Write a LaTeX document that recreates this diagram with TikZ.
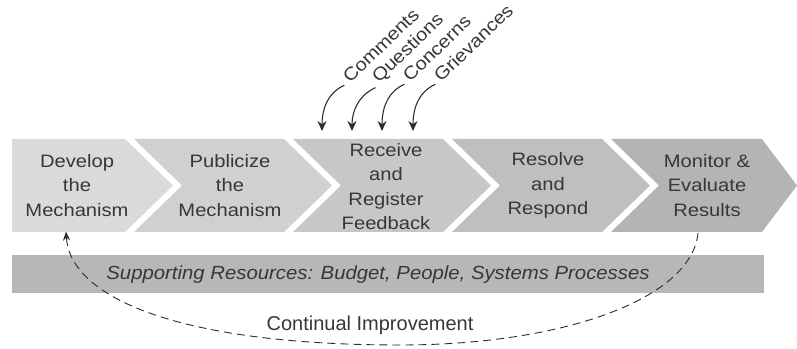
\documentclass[tikz,border=0pt]{standalone}
\usepackage{fontspec}
\setmainfont{Liberation Sans}
\newfontfamily\widefont[FakeStretch=1.12]{Liberation Sans}
\newfontfamily\barfont[FakeStretch=1.07]{Liberation Sans}
\usetikzlibrary{arrows.meta}
\definecolor{txtc}{RGB}{55,55,55}
\definecolor{linec}{RGB}{45,45,45}
\definecolor{cA}{RGB}{218,218,218}
\definecolor{cB}{RGB}{208,208,208}
\definecolor{cC}{RGB}{199,199,199}
\definecolor{cD}{RGB}{191,191,191}
\definecolor{cE}{RGB}{180,180,180}
\definecolor{barc}{RGB}{183,183,183}
\tikzset{
  steptext/.style={align=center, text=txtc, inner sep=0pt,
    font=\widefont\fontsize{18}{24.5}\selectfont},
  lbl/.style={text=txtc, inner sep=0pt, rotate=44, anchor=base west,
    font=\widefont\fontsize{18}{20}\selectfont},
  inarrow/.style={draw=linec, line width=1.1pt,
    -{Stealth[length=10pt,width=9pt]}},
  loopline/.style={draw=linec, line width=0.9pt, dash pattern=on 8pt off 5pt,
    -{Stealth[length=9pt,width=7pt]}},
}
\begin{document}
\begin{tikzpicture}[x=1pt,y=1pt]
\useasboundingbox (0,0) rectangle (797,348);
% chevrons
\fill[cA] (12,209) -- (125,209) -- (173,162.5) -- (125,116) -- (12,116) -- cycle;
\fill[cB] (134,209) -- (284,209) -- (332,162.5) -- (284,116) -- (134,116) -- (182,162.5) -- cycle;
\fill[cC] (293,209) -- (443,209) -- (491,162.5) -- (443,116) -- (293,116) -- (341,162.5) -- cycle;
\fill[cD] (452,209) -- (602,209) -- (650,162.5) -- (602,116) -- (452,116) -- (500,162.5) -- cycle;
\fill[cE] (611,209) -- (762,209) -- (797,162.5) -- (762,116) -- (611,116) -- (659,162.5) -- cycle;
% step texts
\node[steptext] (s1) at (77,162.5) {Develop\\the\\Mechanism};
\node[steptext] (s2) at (230,162.5) {Publicize\\the\\Mechanism};
\node[steptext] (s3) at (386,161.5) {Receive\\and\\Register\\Feedback};
\node[steptext] (s4) at (548,162.5) {Resolve\\and\\Respond};
\node[steptext] (s5) at (707,162.5) {Monitor \&\\Evaluate\\Results};
% supporting bar
\fill[barc] (12,55) rectangle (764,93);
\node[text=txtc, inner sep=0pt, font=\barfont\itshape\fontsize{19}{22}\selectfont] (bar) at (378,73)
  {Supporting Resources: Budget, People, Systems Processes};
% input labels
\node[lbl] (l1) at (350,264) {Comments};
\node[lbl] (l2) at (379,264) {Questions};
\node[lbl] (l3) at (410,265) {Concerns};
\node[lbl] (l4) at (441,265) {Grievances};
\coordinate (t1) at (322,217);
\coordinate (t2) at (352,217);
\coordinate (t3) at (382,217);
\coordinate (t4) at (413,217);
\draw[inarrow] ([shift={(-6,-1)}]l1.south west) to[out=205,in=90] (t1);
\draw[inarrow] ([shift={(-6,-1)}]l2.south west) to[out=205,in=90] (t2);
\draw[inarrow] ([shift={(-6,-1)}]l3.south west) to[out=205,in=90] (t3);
\draw[inarrow] ([shift={(-6,-1)}]l4.south west) to[out=205,in=90] (t4);
% continual improvement loop
\coordinate (cstart) at (698,115);
\coordinate (cbot) at (400,3);
\coordinate (cend) at (66,116.5);
\draw[loopline] (cstart) .. controls (692,50) and (565,3) .. (cbot)
  .. controls (180,3) and (70,50) .. (cend);
\node[text=txtc, inner sep=0pt, anchor=base, font=\fontsize{20}{24}\selectfont] (ci) at (370,17.3) {Continual Improvement};
\end{tikzpicture}
\end{document}
